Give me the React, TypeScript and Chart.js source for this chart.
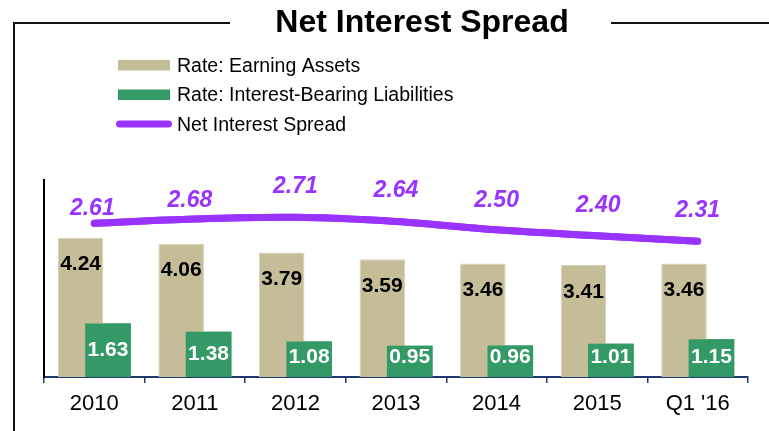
import React, { useEffect, useRef } from "react";
import { Chart, registerables } from "chart.js";

Chart.register(...registerables);

const TITLE = "Net Interest Spread";
const CATEGORIES = ["2010", "2011", "2012", "2013", "2014", "2015", "Q1 '16"];
const EARNING_ASSETS = [4.24, 4.06, 3.79, 3.59, 3.46, 3.41, 3.46];
const LIABILITIES = [1.63, 1.38, 1.08, 0.95, 0.96, 1.01, 1.15];
const SPREAD = [2.61, 2.68, 2.71, 2.64, 2.5, 2.4, 2.31];
const SERIES_NAMES = [
  "Rate: Earning Assets",
  "Rate: Interest-Bearing Liabilities",
  "Net Interest Spread",
];
// label placement tweaks for the spread labels (pixels above the point / horizontal nudge)
const SPREAD_LABEL_RAISE = [8, 12, 24, 24, 23, 24, 24];
const SPREAD_LABEL_SHIFT = [-2, -5, 0, 0, 0, 1, 0];

const TAN = "#C4BD97";
const GREEN = "#339966";
const PURPLE = "#9933FF";
const FONT = "'Liberation Sans', Arial, sans-serif";

const decorPlugin = {
  id: "decor",
  afterDatasetsDraw(chart: any) {
    // the right-hand (green) bars sit on top of the tan ones
    const green = chart.getDatasetMeta(1);
    green.controller.draw();
    const line = chart.getDatasetMeta(2);
    line.controller.draw();
  },
  afterDraw(chart: any) {
    const ctx = chart.ctx as CanvasRenderingContext2D;
    const area = chart.chartArea;
    ctx.save();

    // frame
    ctx.strokeStyle = "#111";
    ctx.lineWidth = 2;
    ctx.beginPath();
    ctx.moveTo(14, 431);
    ctx.lineTo(14, 23);
    ctx.lineTo(230, 23);
    ctx.moveTo(611, 23);
    ctx.lineTo(769, 23);
    ctx.stroke();

    // title
    ctx.fillStyle = "#000";
    ctx.font = `bold 32px ${FONT}`;
    ctx.textAlign = "center";
    ctx.textBaseline = "alphabetic";
    ctx.fillText(TITLE, 422, 32);

    // legend
    const ds = chart.data.datasets;
    const rows = [65, 94.5, 124];
    ctx.font = `19.5px ${FONT}`;
    ctx.textAlign = "left";
    ds.forEach((d: any, i: number) => {
      const y = rows[i];
      if (d.type === "line") {
        ctx.strokeStyle = d.borderColor;
        ctx.lineWidth = 7;
        ctx.lineCap = "round";
        ctx.beginPath();
        ctx.moveTo(119.5, y);
        ctx.lineTo(168.5, y);
        ctx.stroke();
      } else {
        ctx.fillStyle = d.backgroundColor;
        ctx.fillRect(118, y - 5, 52, 10.5);
      }
      ctx.fillStyle = "#000";
      ctx.fillText(d.label, 177, y + 6.5);
    });

    // bar labels
    const m0 = chart.getDatasetMeta(0);
    ctx.font = `bold 21px ${FONT}`;
    ctx.textAlign = "center";
    ctx.fillStyle = "#000";
    m0.data.forEach((el: any, i: number) => {
      ctx.fillText(EARNING_ASSETS[i].toFixed(2), el.x, el.y + 32.5);
    });
    const m1 = chart.getDatasetMeta(1);
    ctx.fillStyle = "#fff";
    m1.data.forEach((el: any, i: number) => {
      const center = (el.y + el.base) / 2;
      ctx.fillText(LIABILITIES[i].toFixed(2), el.x, Math.min(center + 6, area.bottom - 14.5));
    });
    const m2 = chart.getDatasetMeta(2);
    ctx.font = `italic bold 23px ${FONT}`;
    ctx.fillStyle = PURPLE;
    m2.data.forEach((el: any, i: number) => {
      ctx.fillText(SPREAD[i].toFixed(2), el.x + SPREAD_LABEL_SHIFT[i], el.y - SPREAD_LABEL_RAISE[i]);
    });
    ctx.restore();
  },
};

export default function App() {
  const ref = useRef<HTMLCanvasElement | null>(null);
  useEffect(() => {
    document.body.style.margin = "0";
    if (!ref.current) return;
    const chart = new Chart(ref.current, {
      type: "bar",
      data: {
        labels: CATEGORIES,
        datasets: [
          {
            type: "bar",
            label: SERIES_NAMES[0],
            data: EARNING_ASSETS,
            backgroundColor: TAN,
            borderColor: "#D8D3B8",
            borderWidth: 1,
            yAxisID: "y",
            order: 1,
            categoryPercentage: 0.545,
            barPercentage: 1.664,
          } as any,
          {
            type: "bar",
            label: SERIES_NAMES[1],
            data: LIABILITIES,
            backgroundColor: GREEN,
            borderWidth: 0,
            yAxisID: "y",
            order: 2,
            categoryPercentage: 0.545,
            barPercentage: 1.664,
          } as any,
          {
            type: "line",
            label: SERIES_NAMES[2],
            data: SPREAD,
            borderColor: PURPLE,
            backgroundColor: PURPLE,
            borderWidth: 7,
            borderCapStyle: "round",
            pointRadius: 0,
            tension: 0.35,
            yAxisID: "y2",
            order: 0,
          } as any,
        ],
      },
      options: {
        responsive: false,
        animation: false,
        layout: { padding: { left: 44, right: 21, top: 180, bottom: 0 } },
        plugins: {
          legend: { display: false },
          title: { display: false },
          tooltip: { enabled: false },
        },
        scales: {
          x: {
            offset: true,
            grid: {
              offset: true,
              drawOnChartArea: false,
              drawTicks: true,
              tickLength: 6,
              color: "#1F3A6E",
              lineWidth: 1.5,
            },
            border: { display: true, color: "#1F3A6E", width: 2 },
            ticks: {
              color: "#000",
              font: { family: FONT, size: 22 },
              padding: 8,
              maxRotation: 0,
              autoSkip: false,
            },
            afterFit: (s: any) => {
              s.height = 54;
            },
          },
          y: {
            min: 0,
            max: 6,
            grid: { display: false, drawTicks: false },
            border: { display: true, color: "#000", width: 2 },
            ticks: { display: false },
            afterFit: (s: any) => {
              s.width = 0;
            },
          },
          y2: {
            display: false,
            min: 0.05,
            max: 3.33,
          },
        },
      } as any,
      plugins: [decorPlugin],
    });
    return () => chart.destroy();
  }, []);
  return (
    <div style={{ width: 769, height: 431, background: "#fff" }}>
      <canvas ref={ref} width={769} height={431} style={{ display: "block" }} />
    </div>
  );
}
